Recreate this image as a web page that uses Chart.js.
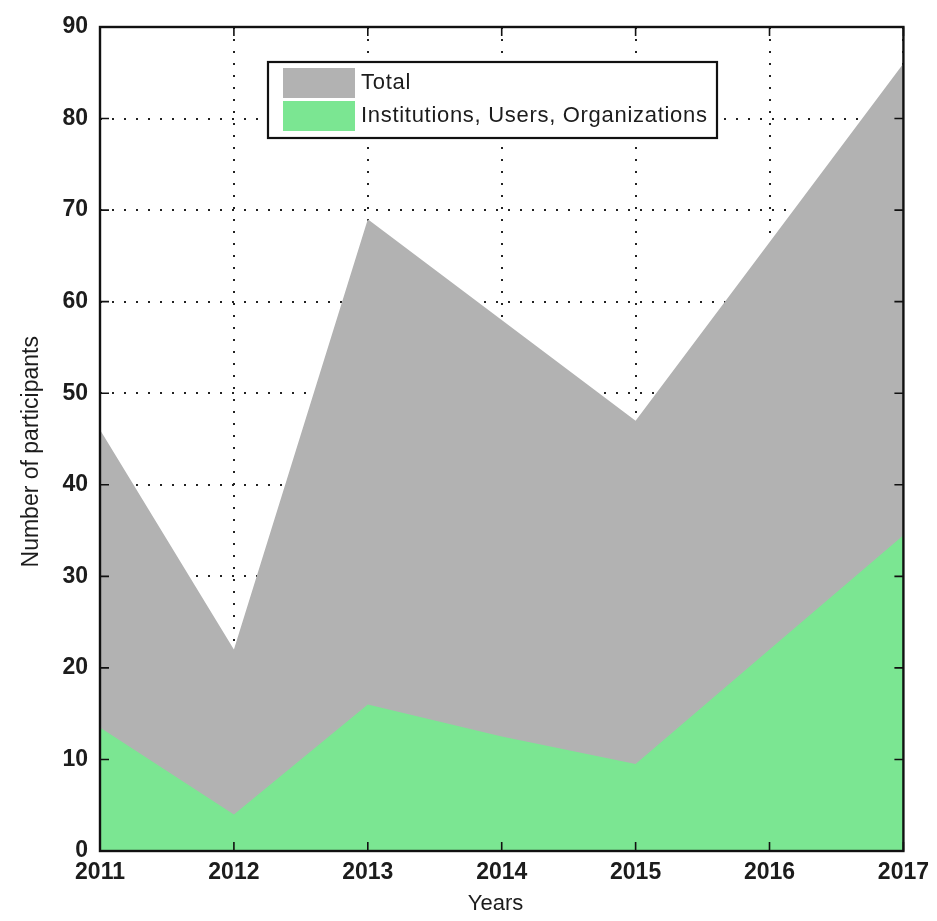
<!DOCTYPE html>
<html>
<head>
<meta charset="utf-8">
<title>Number of participants</title>
<script src="https://cdn.jsdelivr.net/npm/chart.js@4.4.1/dist/chart.umd.min.js"></script>
<style>
  html, body { margin: 0; padding: 0; background: #ffffff; }
  #wrap { width: 937px; height: 921px; }
</style>
</head>
<body>
<div id="wrap"><canvas id="chart" width="937" height="921"></canvas></div>
<script>
// Participants per year
const years = ['2011', '2012', '2013', '2014', '2015', '2016', '2017'];
const totalParticipants = [46, 22, 69, 58, 47, 66.5, 86];
const institutionsUsersOrgs = [13.5, 4, 16, 12.5, 9.5, 22, 34.5];
const seriesNames = ['Total', 'Institutions, Users, Organizations'];
const yRange = { min: 0, max: 90, step: 10 };

const GRAY = 'rgb(178,178,178)';
const GREEN = 'rgb(123,230,146)';
const FONT = '"Liberation Sans", Arial, sans-serif';
const TEXT = '#1c1c1c';

// Box around the axes with short inward tick marks on all four sides
const frameAndTicks = {
  id: 'frameAndTicks',
  afterDatasetsDraw(chart) {
    const { ctx, chartArea: a, scales } = chart;
    const len = 9;
    ctx.save();
    ctx.strokeStyle = '#111';
    ctx.lineWidth = 1.6;
    ctx.beginPath();
    scales.y.ticks.forEach(t => {
      const py = scales.y.getPixelForValue(t.value);
      ctx.moveTo(a.left, py); ctx.lineTo(a.left + len, py);
      ctx.moveTo(a.right, py); ctx.lineTo(a.right - len, py);
    });
    scales.x.ticks.forEach((t, i) => {
      const px = scales.x.getPixelForTick(i);
      ctx.moveTo(px, a.top); ctx.lineTo(px, a.top + len);
      ctx.moveTo(px, a.bottom); ctx.lineTo(px, a.bottom - len);
    });
    ctx.stroke();
    ctx.lineWidth = 2.4;
    ctx.strokeRect(a.left, a.top, a.right - a.left, a.bottom - a.top);
    ctx.restore();
  }
};

// Boxed legend placed inside the axes, near the top
const boxedLegend = {
  id: 'boxedLegend',
  afterDraw(chart) {
    const { ctx } = chart;
    const x0 = 268, y0 = 62, w = 449, h = 76;
    ctx.save();
    ctx.fillStyle = '#ffffff';
    ctx.fillRect(x0, y0, w, h);
    ctx.strokeStyle = '#111';
    ctx.lineWidth = 2.2;
    ctx.strokeRect(x0, y0, w, h);
    const rows = [
      { color: chart.data.datasets[0].backgroundColor, label: chart.data.datasets[0].label, y: y0 + 6 },
      { color: chart.data.datasets[1].backgroundColor, label: chart.data.datasets[1].label, y: y0 + 39 }
    ];
    ctx.font = '22px ' + FONT;
    if ('letterSpacing' in ctx) ctx.letterSpacing = '0.7px';
    ctx.textBaseline = 'middle';
    ctx.textAlign = 'left';
    rows.forEach(r => {
      ctx.fillStyle = r.color;
      ctx.fillRect(x0 + 15, r.y, 72, 30);
      ctx.fillStyle = TEXT;
      ctx.fillText(r.label, x0 + 93, r.y + 15);
    });
    ctx.restore();
  }
};

const gridStyle = {
  color: '#222',
  lineWidth: 2,
  drawTicks: false,
  borderDash: [2, 10]
};

new Chart(document.getElementById('chart'), {
  type: 'line',
  data: {
    labels: years,
    datasets: [
      {
        label: seriesNames[0],
        data: totalParticipants,
        backgroundColor: GRAY,
        borderColor: 'rgba(0,0,0,0)',
        borderWidth: 0,
        fill: 'origin',
        pointRadius: 0,
        tension: 0,
        order: 2
      },
      {
        label: seriesNames[1],
        data: institutionsUsersOrgs,
        backgroundColor: GREEN,
        borderColor: 'rgba(0,0,0,0)',
        borderWidth: 0,
        fill: 'origin',
        pointRadius: 0,
        tension: 0,
        order: 1
      }
    ]
  },
  options: {
    responsive: false,
    animation: false,
    devicePixelRatio: 1,
    layout: { padding: { top: 27, right: 31, bottom: 2, left: 0 } },
    plugins: {
      legend: { display: false },
      tooltip: { enabled: false },
      title: { display: false }
    },
    scales: {
      x: {
        type: 'category',
        offset: false,
        grid: gridStyle,
        border: { display: false, dash: [2, 10] },
        ticks: {
          color: TEXT,
          font: { family: FONT, size: 23, weight: 'bold' },
          padding: 8,
          maxRotation: 0,
          autoSkip: false
        },
        title: {
          display: true,
          text: 'Years  ',
          color: TEXT,
          font: { family: FONT, size: 22 },
          padding: { top: 0, bottom: 2 }
        },
        afterFit(scale) { scale.height = 68; }
      },
      y: {
        min: yRange.min,
        max: yRange.max,
        grid: gridStyle,
        border: { display: false, dash: [2, 10] },
        ticks: {
          stepSize: yRange.step,
          color: TEXT,
          font: { family: FONT, size: 23, weight: 'bold' },
          padding: 12
        },
        title: {
          display: true,
          text: 'Number of participants    ',
          color: TEXT,
          font: { family: FONT, size: 23 },
          padding: { top: 18, bottom: 0 }
        },
        afterFit(scale) { scale.width = 100; }
      }
    }
  },
  plugins: [frameAndTicks, boxedLegend]
});
</script>
</body>
</html>
